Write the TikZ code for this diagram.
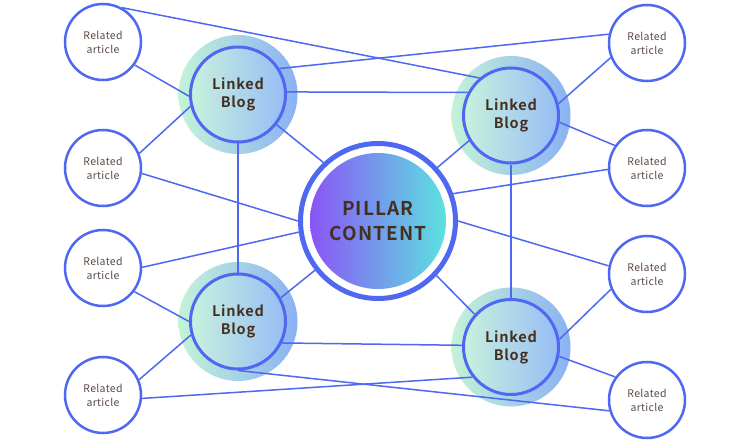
\documentclass[tikz,border=0pt]{standalone}
\usepackage{fontspec}
\setmainfont{Noto Sans CJK JP}[BoldFont={Noto Sans CJK JP Bold}]
\definecolor{lineblue}{HTML}{4E68F2}
\definecolor{relText}{HTML}{5A4A42}
\definecolor{darkText}{HTML}{45301F}
\definecolor{blogL}{HTML}{C8F1DE}
\definecolor{blogR}{HTML}{97BDF5}
\definecolor{haloL}{HTML}{C4F3D8}
\definecolor{haloR}{HTML}{8AB1F3}
\definecolor{pilL}{HTML}{8A55F6}
\definecolor{pilR}{HTML}{5CE2E0}
\begin{document}
\begin{tikzpicture}[x=1pt,y=-1pt,
  conn/.style={draw=lineblue, line width=1.5pt},
  rel/.style={circle, draw=lineblue, line width=2.5pt, fill=white, minimum size=76pt, inner sep=0pt, align=center, text=relText, font=\fontsize{10.5}{14}\selectfont\addfontfeature{LetterSpace=3}},
  blog/.style={circle, draw=lineblue, line width=3pt, left color=blogL, right color=blogR, minimum size=95pt, inner sep=0pt, align=center, text=darkText, font=\bfseries\fontsize{14.5}{18}\selectfont\addfontfeature{LetterSpace=5}},
  halo/.style={left color=haloL, right color=haloR, draw=none},
  pillarring/.style={circle, draw=lineblue, line width=5pt, fill=white, minimum size=155pt, inner sep=0pt},
  pillartext/.style={align=center, text=darkText, font=\bfseries\fontsize{19}{25}\selectfont\addfontfeature{LetterSpace=6}},
]
\useasboundingbox (0,0) rectangle (740,444);
\fill[white] (0,0) rectangle (740,444);

% halos
\shade[halo] (238,94.5) circle (59.5pt);
\shade[halo] (511,115.5) circle (59.5pt);
\shade[halo] (238,321.5) circle (59.5pt);
\shade[halo] (511,347) circle (59.5pt);

% related articles
\node[rel] (L1) at (103,42) {Related\\article};
\node[rel] (L2) at (103,168) {Related\\article};
\node[rel] (L3) at (103,268) {Related\\article};
\node[rel] (L4) at (103,395) {Related\\article};
\node[rel] (R1) at (647,43) {Related\\article};
\node[rel] (R2) at (647,168) {Related\\article};
\node[rel] (R3) at (647,274) {Related\\article};
\node[rel] (R4) at (647,400) {Related\\article};

% pillar
\node[pillarring] (P) at (378,221) {};
\shade[left color=pilL, right color=pilR] (P.center) circle (68pt);
\node[pillartext] (PT) at (P.center) {PILLAR\\CONTENT};

% linked blogs
\node[blog] (B1) at (238,94.5) {Linked\\Blog};
\node[blog] (B2) at (511,115.5) {Linked\\Blog};
\node[blog] (B3) at (238,321.5) {Linked\\Blog};
\node[blog] (B4) at (511,347) {Linked\\Blog};

% connectors
\draw[conn] (L1.61) -- (B2.130);
\draw[conn] (B1.32) -- (R1.167);
\draw[conn] (L1.-36) -- (B1.182);
\draw[conn] (B1.3.5) -- (B2.152);
\draw[conn] (B1.-38) -- (P.133.5);
\draw[conn] (B1.south) -- (B3.north);
\draw[conn] (L2.22) -- (B1.194);
\draw[conn] (L2.-8) -- (P.180);
\draw[conn] (L3.1.5) -- (P.188.5);
\draw[conn] (L3.-37) -- (B3.180);
\draw[conn] (L4.23.4) -- (B3.196.5);
\draw[conn] (L4.-5.7) -- (B4.218);
\draw[conn] (B3.south) -- (R4.196.7);
\draw[conn] (B3.-26.4) -- (B4.178);
\draw[conn] (B3.29.8) -- (P.218.8);
\draw[conn] (B2.14.7) -- (R1.202);
\draw[conn] (B2.-8.5) -- (R2.145.7);
\draw[conn] (B2.211) -- (P.42.8);
\draw[conn] (B2.south) -- (B4.north);
\draw[conn] (R2.182) -- (P.20.7);
\draw[conn] (R3.168.6) -- (P.0);
\draw[conn] (B4.138.5) -- (P.-43.6);
\draw[conn] (B4.9.6) -- (R3.203.4);
\draw[conn] (B4.-11.5) -- (R4.144.5);
\end{tikzpicture}
\end{document}
